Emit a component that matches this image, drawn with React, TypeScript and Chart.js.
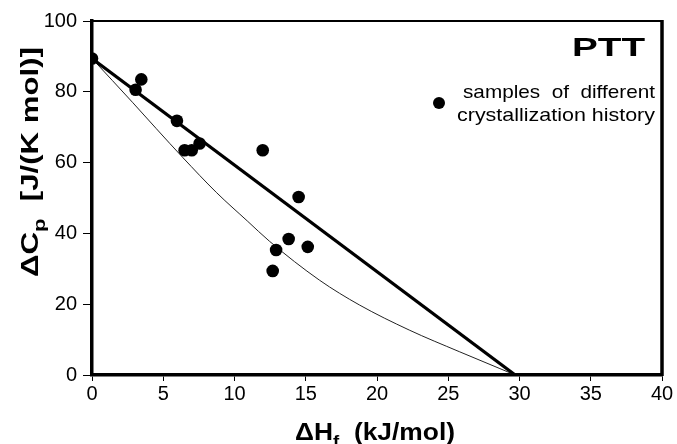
import React, { useEffect, useRef } from "react";
import { Chart, registerables } from "chart.js";

Chart.register(...registerables);

// Sample data: ΔHf (kJ/mol) vs ΔCp (J/(K mol))
const sampleDH = [0, 3.46, 3.06, 5.96, 6.5, 7.0, 7.55, 11.98, 14.5, 13.8, 12.92, 15.14, 12.68];
const sampleDCp = [89.4, 83.5, 80.6, 71.8, 63.5, 63.5, 65.4, 63.5, 50.3, 38.4, 35.3, 36.2, 29.4];

// Thick straight line (two-phase model)
const lineDH = [0, 29.7];
const lineDCp = [89.4, 0];

// Thin curve
const curveDH = [0, 2.87, 4.51, 6.38, 8.72, 10.93, 12.45, 15.96, 18.76, 22.26, 25.77, 28.57, 29.7];
const curveDCp = [89.4, 76.9, 69.6, 61.4, 51.6, 43.4, 37.8, 26.8, 19.8, 12.7, 6.6, 1.9, 0];

const xTicks = [0, 5, 10, 15, 20, 25, 30, 35, 40];
const yTicks = [0, 20, 40, 60, 80, 100];

const FONT = '"Liberation Sans", Arial, Helvetica, sans-serif';

type Seg = { t: string; sub?: boolean };

function drawSegs(
  ctx: CanvasRenderingContext2D,
  segs: Seg[],
  x: number,
  y: number,
  align: "left" | "center" | "right",
  targetW: number,
  size: number,
  bold: boolean
) {
  const w = bold ? "bold " : "";
  const mainF = `${w}${size}px ${FONT}`;
  const subF = `${w}${Math.round(size * 0.7)}px ${FONT}`;
  let total = 0;
  const widths: number[] = [];
  segs.forEach((s) => {
    ctx.font = s.sub ? subF : mainF;
    const m = ctx.measureText(s.t).width;
    widths.push(m);
    total += m;
  });
  const sx = targetW / total;
  ctx.save();
  let left = x;
  if (align === "center") left = x - targetW / 2;
  if (align === "right") left = x - targetW;
  ctx.translate(left, y);
  ctx.scale(sx, 1);
  ctx.textBaseline = "alphabetic";
  ctx.textAlign = "left";
  ctx.fillStyle = "#000";
  let cx = 0;
  segs.forEach((s, i) => {
    ctx.font = s.sub ? subF : mainF;
    ctx.fillText(s.t, cx, s.sub ? size * 0.28 : 0);
    cx += widths[i];
  });
  ctx.restore();
}

const decorPlugin = {
  id: "decor",
  afterDraw(chart: any) {
    const ctx: CanvasRenderingContext2D = chart.ctx;
    const a = chart.chartArea;
    ctx.save();
    // frame top and right
    ctx.strokeStyle = "#000";
    ctx.lineWidth = 2;
    ctx.beginPath();
    ctx.moveTo(a.left - 1, a.top);
    ctx.lineTo(a.right + 1, a.top);
    ctx.stroke();
    ctx.lineWidth = 3.5;
    ctx.beginPath();
    ctx.moveTo(a.right, a.top - 1);
    ctx.lineTo(a.right, a.bottom + 1);
    ctx.stroke();

    // y axis title (rotated)
    ctx.save();
    ctx.translate(38, 162);
    ctx.rotate(-Math.PI / 2);
    drawSegs(ctx, [{ t: "ΔC" }, { t: "p", sub: true }, { t: "  [J/(K mol)]" }], 0, 0, "center", 230, 24, true);
    ctx.restore();

    // x axis title
    drawSegs(ctx, [{ t: "ΔH" }, { t: "f", sub: true }, { t: "  (kJ/mol)" }], 375, 440, "center", 160, 24, true);

    // PTT label
    drawSegs(ctx, [{ t: "PTT" }], 645, 56, "right", 73, 26, true);

    // legend
    ctx.fillStyle = "#000";
    ctx.beginPath();
    ctx.arc(439, 103, 6, 0, Math.PI * 2);
    ctx.fill();
    drawSegs(ctx, [{ t: "samples  of  different" }], 463, 98, "left", 192, 18.5, false);
    drawSegs(ctx, [{ t: "crystallization history" }], 457, 121, "left", 198, 18.5, false);
    ctx.restore();
  },
};

export default function App() {
  const ref = useRef<HTMLCanvasElement>(null);
  useEffect(() => {
    if (!ref.current) return;
    const chart = new Chart(ref.current, {
      type: "scatter",
      data: {
        datasets: [
          {
            label: "curve",
            data: curveDH.map((x, i) => ({ x, y: curveDCp[i] })),
            showLine: true,
            borderColor: "#222",
            borderWidth: 1,
            pointRadius: 0,
            cubicInterpolationMode: "monotone",
            order: 3,
          } as any,
          {
            label: "line",
            data: lineDH.map((x, i) => ({ x, y: lineDCp[i] })),
            showLine: true,
            borderColor: "#000",
            borderWidth: 3.2,
            pointRadius: 0,
            order: 2,
          },
          {
            label: "samples",
            data: sampleDH.map((x, i) => ({ x, y: sampleDCp[i] })),
            backgroundColor: "#000",
            borderColor: "#000",
            borderWidth: 0,
            pointRadius: 6.3,
            order: 1,
          },
        ],
      },
      options: {
        animation: false,
        responsive: false,
        layout: { padding: { left: 0, top: 21, right: 15, bottom: 0 } },
        plugins: { legend: { display: false }, tooltip: { enabled: false } },
        scales: {
          x: {
            type: "linear",
            min: 0,
            max: 40,
            afterBuildTicks: (s: any) => {
              s.ticks = xTicks.map((v) => ({ value: v }));
            },
            afterFit: (s: any) => {
              s.height = 69;
            },
            ticks: { color: "#000", font: { family: FONT, size: 20 }, padding: 1, maxRotation: 0 },
            grid: { display: true, drawOnChartArea: false, drawTicks: true, tickLength: 6, color: "#000", lineWidth: 1 },
            border: { display: true, color: "#000", width: 3.5 },
          },
          y: {
            type: "linear",
            min: 0,
            max: 100,
            afterBuildTicks: (s: any) => {
              s.ticks = yTicks.map((v) => ({ value: v }));
            },
            afterFit: (s: any) => {
              s.width = 92;
            },
            ticks: { color: "#000", font: { family: FONT, size: 20 }, padding: 6 },
            grid: { display: true, drawOnChartArea: false, drawTicks: true, tickLength: 9, color: "#000", lineWidth: 1 },
            border: { display: true, color: "#000", width: 3.5 },
          },
        },
      },
      plugins: [decorPlugin],
    });
    return () => chart.destroy();
  }, []);
  return (
    <div style={{ position: "fixed", left: 0, top: 0, width: 677, height: 444, background: "#fff" }}>
      <canvas ref={ref} width={677} height={444} style={{ display: "block" }} />
    </div>
  );
}
